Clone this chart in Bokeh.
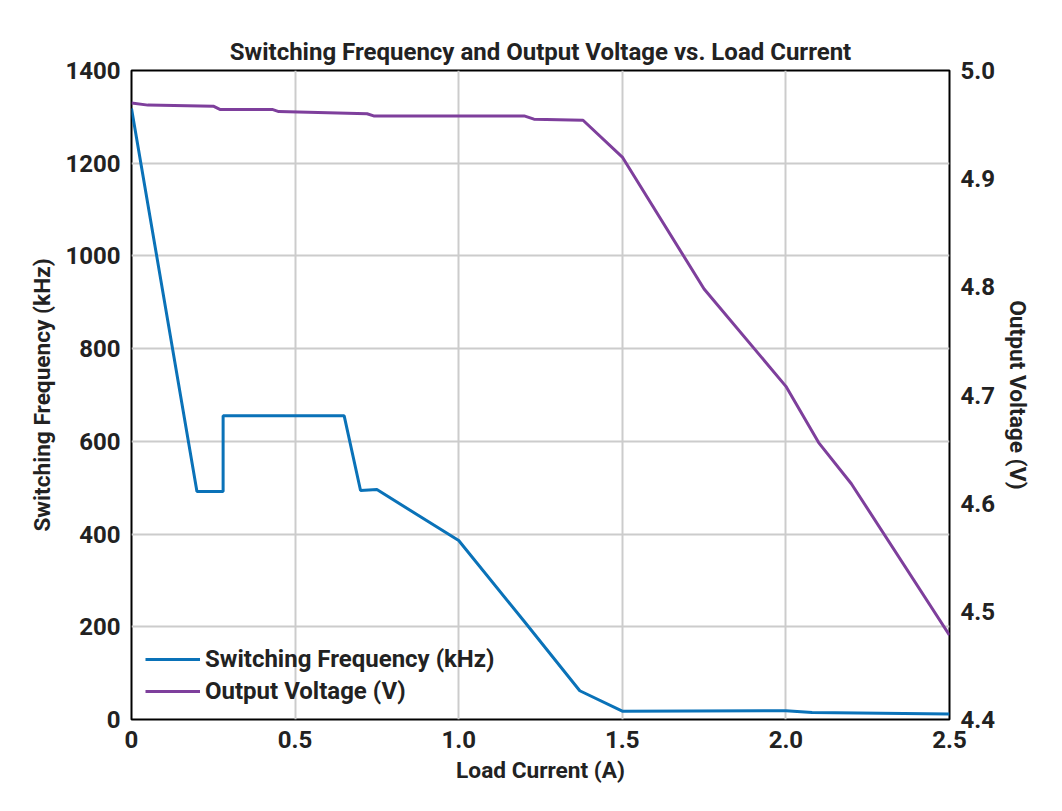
from bokeh.plotting import figure
from bokeh.models import Range1d, LinearAxis, Legend, LegendItem, FixedTicker, NumeralTickFormatter
from bokeh.embed import file_html
from bokeh.resources import INLINE

freq_x = [0, 0.2, 0.28, 0.28, 0.65, 0.70, 0.75, 1.0, 1.2, 1.37, 1.5, 2.0, 2.08, 2.5]
freq_y = [1318, 492, 492, 655, 655, 494, 496, 386, 212, 62, 18, 19, 15, 12]
volt_x = [0, 0.05, 0.25, 0.27, 0.43, 0.45, 0.72, 0.74, 1.2, 1.23, 1.38, 1.5, 1.75, 2.0, 2.1, 2.2, 2.5]
volt_y = [4.970, 4.968, 4.967, 4.964, 4.964, 4.962, 4.960, 4.958, 4.958, 4.955, 4.954, 4.920, 4.798, 4.708, 4.656, 4.618, 4.478]
x_ticks = [0, 0.5, 1.0, 1.5, 2.0, 2.5]
x_labels = ["0", "0.5", "1.0", "1.5", "2.0", "2.5"]

FONT = "Roboto"
p = figure(width=1046, height=795, output_backend="svg", toolbar_location=None,
           x_range=Range1d(0, 2.5), y_range=Range1d(0, 1400),
           title="Switching Frequency and Output Voltage vs. Load Current",
           min_border_left=131, min_border_right=97, min_border_top=70, min_border_bottom=76)
p.title.align = "center"
p.title.text_font = FONT
p.title.text_font_size = "18pt"
p.title.text_font_style = "bold"
p.title.text_color = "#222222"
p.title.offset = -100
p.outline_line_color = "black"
p.outline_line_width = 2
p.extra_y_ranges = {"v": Range1d(4.4, 5.0)}

p.xaxis.ticker = FixedTicker(ticks=x_ticks)
p.xaxis.major_label_overrides = {t: l for t, l in zip(x_ticks, x_labels)}
p.yaxis.ticker = FixedTicker(ticks=list(range(0, 1401, 200)))
p.xaxis.axis_label = "Load Current (A)"
p.yaxis.axis_label = "Switching Frequency (kHz)"

ax2 = LinearAxis(y_range_name="v", axis_label="Output Voltage (V)",
                 ticker=FixedTicker(ticks=[4.4, 4.5, 4.6, 4.7, 4.8, 4.9, 5.0]),
                 formatter=NumeralTickFormatter(format="0.0"))
p.add_layout(ax2, "right")

for ax in p.axis:
    ax.major_label_text_font = FONT
    ax.major_label_text_font_size = "18pt"
    ax.major_label_text_font_style = "bold"
    ax.major_label_text_color = "#222222"
    ax.axis_label_text_font = FONT
    ax.axis_label_text_font_size = "17pt"
    ax.axis_label_text_font_style = "bold"
    ax.axis_label_text_color = "#222222"
    ax.axis_line_color = None
    ax.major_tick_line_color = None
    ax.minor_tick_line_color = None
    ax.axis_label_standoff = 6

p.grid.grid_line_color = "#cccccc"
p.grid.grid_line_width = 2

r1 = p.line(freq_x, freq_y, line_color="#0A72B8", line_width=3)
r2 = p.line(volt_x, volt_y, line_color="#7E3F9C", line_width=3, y_range_name="v")

leg = Legend(items=[LegendItem(label="Switching Frequency (kHz)", renderers=[r1]),
                    LegendItem(label="Output Voltage (V)", renderers=[r2])],
             location="bottom_left", border_line_color=None, background_fill_alpha=0,
             label_text_font=FONT, label_text_font_size="18pt", label_text_font_style="bold",
             label_text_color="#222222", glyph_width=55, spacing=4, margin=14)
p.add_layout(leg)

open("out.html", "w").write(file_html(p, INLINE))
